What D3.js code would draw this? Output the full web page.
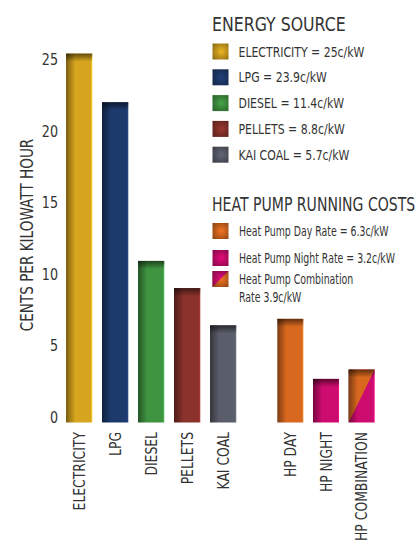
<!DOCTYPE html>
<meta charset="utf-8">
<html>
  <head>
    <style>
      body { margin: 0; background: #fff; }
      text { font-family: "DejaVu Sans", sans-serif; fill: #333; }
    </style>
  </head>
  <body>
    <script src="https://d3js.org/d3.v7.min.js"></script>
    <script>

      // bars
      var sources = ["ELECTRICITY", "LPG", "DIESEL", "PELLETS", "KAI COAL"];
      var sourceValues = [25.8, 22.4, 11.3, 9.4, 6.8];
      var sourceColors = ["#d6a41e", "#1d3a6d", "#3f9441", "#8a322b", "#5a5d6a"];

      var pumps = ["HP DAY", "HP NIGHT", "HP COMBINATION"];
      var pumpValues = [7.25, 3.05, 3.7];
      var pumpColors = ["#d9681f", "#cc0c6e", "combo"];

      var sourceLegend = ["ELECTRICITY = 25c/kW", "LPG = 23.9c/kW", "DIESEL = 11.4c/kW",
                          "PELLETS = 8.8c/kW", "KAI COAL = 5.7c/kW"];
      var pumpLegend = [["Heat Pump Day Rate = 6.3c/kW"], ["Heat Pump Night Rate = 3.2c/kW"],
                        ["Heat Pump Combination", "Rate 3.9c/kW"]];

      var yTicks = [0, 5, 10, 15, 20, 25];

      var width = 418, height = 547;

      var svg = d3.select("body").append("svg")
          .attr("width", width)
          .attr("height", height);

      var defs = svg.append("defs");

      // the original font is a narrow geometric face, so DejaVu gets squeezed
      // along the reading direction with a scale transform
      function label(x, y0, rot, f, size, str) {
        return svg.append("text")
          .attr("transform", "translate(" + x + "," + y0 + ")" +
                (rot ? " rotate(" + rot + ")" : "") + " scale(" + f + ",1)")
          .style("font-size", size + "px")
          .text(str);
      }

      var y = d3.scaleLinear().domain([0, 25]).range([422.5, 65]);

      var xs = d3.scaleBand().domain(sources).range([66, 236.3]).paddingInner(0.27);
      var xp = d3.scaleBand().domain(pumps).range([277.3, 374.7]).paddingInner(0.27);

      function makeBarGrad(id, c) {
        var g = defs.append("linearGradient").attr("id", id)
            .attr("x1", "0").attr("x2", "1").attr("y1", "0").attr("y2", "0");
        g.append("stop").attr("offset", "0").attr("stop-color", d3.color(c).darker(1.6));
        g.append("stop").attr("offset", "0.35").attr("stop-color", c);
        g.append("stop").attr("offset", "0.94").attr("stop-color", c);
        g.append("stop").attr("offset", "1").attr("stop-color", d3.color(c).brighter(0.8));
      }
      function makeSwatchGrad(id, c) {
        var g = defs.append("radialGradient").attr("id", id)
            .attr("cx", "0.55").attr("cy", "0.5").attr("r", "0.7");
        g.append("stop").attr("offset", "0").attr("stop-color", d3.color(c).brighter(0.3));
        g.append("stop").attr("offset", "1").attr("stop-color", d3.color(c).darker(1.2));
      }

      var allColors = sourceColors.concat(["#d9681f", "#cc0c6e"]);
      allColors.forEach(function(c, i) {
        makeBarGrad("bar" + i, c);
        makeSwatchGrad("sw" + i, c);
      });

      var topGrad = defs.append("linearGradient").attr("id", "topShade")
          .attr("x1", "0").attr("x2", "0").attr("y1", "0").attr("y2", "1");
      topGrad.append("stop").attr("offset", "0").attr("stop-color", "#000").attr("stop-opacity", 0.55);
      topGrad.append("stop").attr("offset", "1").attr("stop-color", "#000").attr("stop-opacity", 0);

      function drawBar(x0, w, v, fillId) {
        svg.append("rect")
          .attr("x", x0).attr("y", y(v))
          .attr("width", w).attr("height", y(0) - y(v))
          .attr("fill", "url(#" + fillId + ")");
      }
      function drawTop(x0, w, v) {
        svg.append("rect")
          .attr("x", x0).attr("y", y(v))
          .attr("width", w).attr("height", 8)
          .attr("fill", "url(#topShade)");
      }

      sources.forEach(function(s, i) {
        drawBar(xs(s), xs.bandwidth(), sourceValues[i], "bar" + i);
        drawTop(xs(s), xs.bandwidth(), sourceValues[i]);
      });

      pumps.forEach(function(p, i) {
        var x0 = xp(p), w = xp.bandwidth(), v = pumpValues[i];
        if (pumpColors[i] === "combo") {
          drawBar(x0, w, v, "bar6");
          svg.append("path")
            .attr("d", "M" + x0 + "," + y(v) + "L" + (x0 + w) + "," + y(v) + "L" + x0 + "," + y(0) + "Z")
            .attr("fill", "url(#bar5)");
        } else {
          drawBar(x0, w, v, "bar" + (5 + i));
        }
        drawTop(x0, w, v);
      });

      // y axis labels (no line)
      yTicks.forEach(function(d) {
        label(58, y(d), 0, 0.85, 15, d).attr("text-anchor", "end");
      });

      label(33, 235, -90, 0.8, 17, "CENTS PER KILOWATT HOUR").attr("text-anchor", "middle");

      // x labels
      sources.forEach(function(s) {
        label(xs(s) + xs.bandwidth() / 2 + 5.5, 432, -90, 0.8, 15.5, s).attr("text-anchor", "end");
      });
      pumps.forEach(function(p) {
        label(xp(p) + xp.bandwidth() / 2 + 5.5, 432, -90, 0.8, 15.5, p).attr("text-anchor", "end");
      });

      // legends
      label(212, 31, 0, 0.83, 19, "ENERGY SOURCE");

      sourceLegend.forEach(function(t, i) {
        var cy = 51.5 + i * 25.8;
        svg.append("rect").attr("x", 212.5).attr("y", cy - 8)
          .attr("width", 16).attr("height", 16)
          .attr("fill", "url(#sw" + i + ")");
        label(238.5, cy + 5, 0, 0.78, 14, t);
      });

      label(212, 210.5, 0, 0.74, 19, "HEAT PUMP RUNNING COSTS");

      var pumpRows = [231, 258, 279];
      pumpLegend.forEach(function(lines, i) {
        var cy = pumpRows[i];
        var sx = 212.5, sy = cy - 8;
        if (i === 2) {
          svg.append("rect").attr("x", sx).attr("y", sy)
            .attr("width", 16).attr("height", 16).attr("fill", "url(#sw5)");
          svg.append("path")
            .attr("d", "M" + sx + "," + sy + "L" + (sx + 16) + "," + sy + "L" + sx + "," + (sy + 16) + "Z")
            .attr("fill", "url(#sw6)");
        } else {
          svg.append("rect").attr("x", sx).attr("y", sy)
            .attr("width", 16).attr("height", 16)
            .attr("fill", "url(#sw" + (5 + i) + ")");
        }
        lines.forEach(function(l, j) {
          label(239, cy + 5 + j * 18, 0, 0.67, 14, l);
        });
      });

    </script>
  </body>
</html>
